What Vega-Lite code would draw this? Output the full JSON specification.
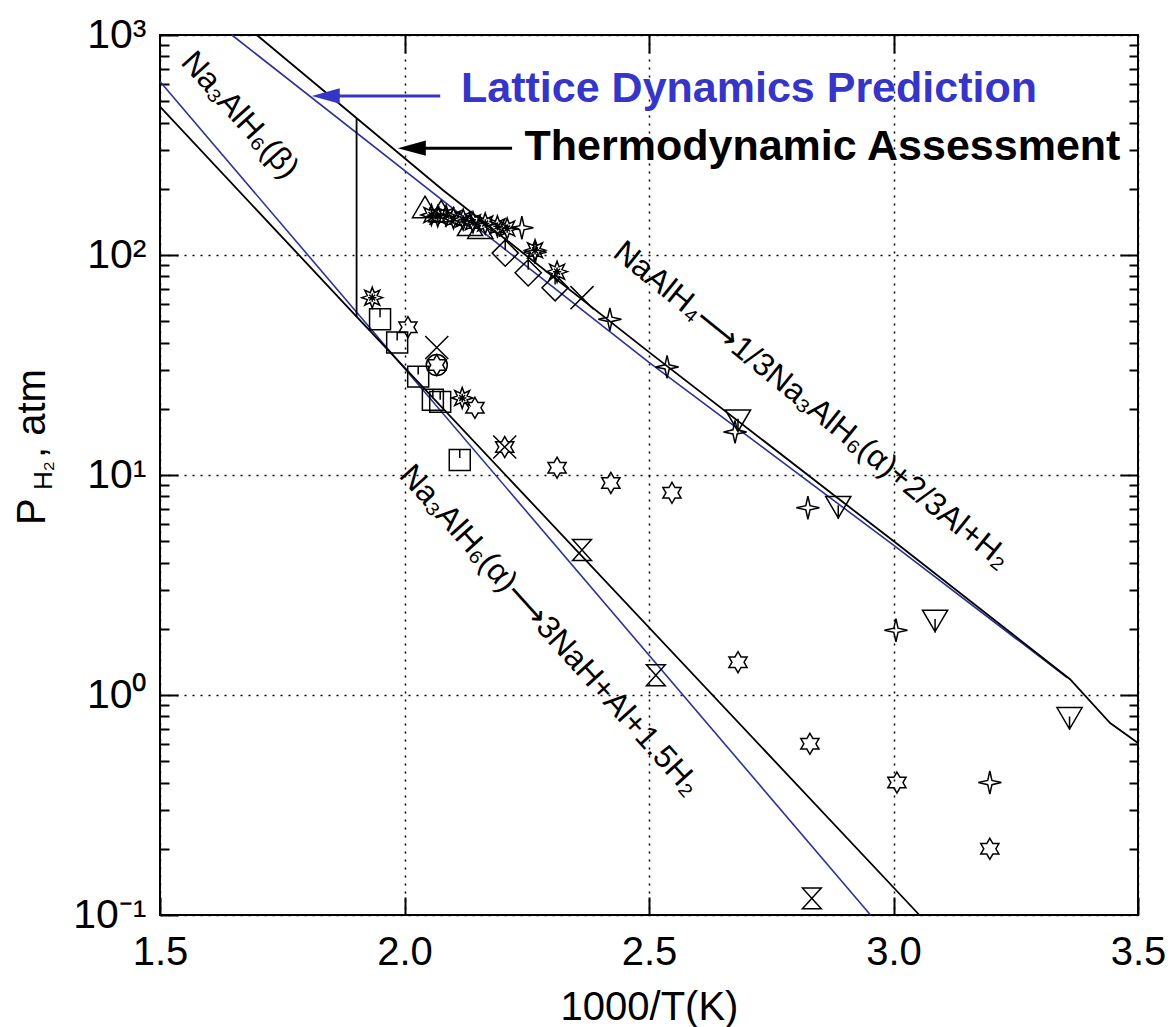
{
  "$schema": "https://vega.github.io/schema/vega-lite/v6.json",
  "width": 978,
  "height": 880,
  "autosize": {"type": "none"},
  "padding": {"left": 160, "top": 35, "right": 36, "bottom": 112},
  "background": "white",
  "datasets": {
    "curves": [
      {"s": "blue", "seg": "upper", "x": 1.647, "y": 1000},
      {"s": "blue", "seg": "upper", "x": 2.5, "y": 32.5},
      {"s": "blue", "seg": "upper", "x": 3.0, "y": 4.8},
      {"s": "blue", "seg": "upper", "x": 3.355, "y": 1.2},
      {"s": "blue", "seg": "lower", "x": 1.5, "y": 614},
      {"s": "blue", "seg": "lower", "x": 2.953, "y": 0.1},
      {"s": "black", "seg": "upper", "x": 1.698, "y": 1000},
      {"s": "black", "seg": "upper", "x": 2.079, "y": 197},
      {"s": "black", "seg": "upper", "x": 2.502, "y": 35.9},
      {"s": "black", "seg": "upper", "x": 2.891, "y": 7.7},
      {"s": "black", "seg": "upper", "x": 3.0, "y": 5.01},
      {"s": "black", "seg": "upper", "x": 3.361, "y": 1.18},
      {"s": "black", "seg": "upper", "x": 3.443, "y": 0.746},
      {"s": "black", "seg": "upper", "x": 3.5, "y": 0.605},
      {"s": "black", "seg": "lower", "x": 1.5, "y": 472},
      {"s": "black", "seg": "lower", "x": 1.902, "y": 52.5},
      {"s": "black", "seg": "lower", "x": 3.053, "y": 0.1},
      {"s": "black", "seg": "transition", "x": 1.902, "y": 52.5},
      {"s": "black", "seg": "transition", "x": 1.902, "y": 418}
    ],
    "points": [
      {"m": "triUp", "x": 2.042, "y": 164},
      {"m": "triUp", "x": 2.075, "y": 157},
      {"m": "triUp", "x": 2.134, "y": 136},
      {"m": "triUp", "x": 2.155, "y": 132},
      {"m": "star8", "x": 2.055, "y": 152},
      {"m": "star8", "x": 2.068, "y": 150},
      {"m": "star8", "x": 2.085, "y": 151},
      {"m": "star8", "x": 2.1, "y": 147},
      {"m": "star8", "x": 2.12, "y": 145},
      {"m": "star8", "x": 2.14, "y": 141},
      {"m": "star8", "x": 2.165, "y": 139},
      {"m": "star8", "x": 2.19, "y": 135},
      {"m": "star8", "x": 2.21, "y": 132},
      {"m": "star8", "x": 2.267, "y": 105},
      {"m": "star8", "x": 2.312, "y": 84},
      {"m": "star8", "x": 1.934, "y": 64},
      {"m": "star8", "x": 2.118, "y": 22.4},
      {"m": "star4", "x": 2.24, "y": 133},
      {"m": "star4", "x": 2.267, "y": 103},
      {"m": "star4", "x": 2.42, "y": 51},
      {"m": "star4", "x": 2.537, "y": 31},
      {"m": "star4", "x": 2.676, "y": 15.7},
      {"m": "star4", "x": 2.825, "y": 7.1},
      {"m": "star4", "x": 3.005, "y": 1.97},
      {"m": "star4", "x": 3.197, "y": 0.4},
      {"m": "diamondTick", "x": 2.206, "y": 102},
      {"m": "diamondTick", "x": 2.253, "y": 83},
      {"m": "diamondTick", "x": 2.308, "y": 71},
      {"m": "cross", "x": 2.363, "y": 64},
      {"m": "cross", "x": 2.066, "y": 38},
      {"m": "cross", "x": 2.205, "y": 13.4},
      {"m": "squareTick", "x": 1.95, "y": 51},
      {"m": "squareTick", "x": 1.985, "y": 40},
      {"m": "squareTick", "x": 2.028, "y": 28},
      {"m": "squareTick", "x": 2.058, "y": 22},
      {"m": "squareTick", "x": 2.073, "y": 21.5},
      {"m": "squareTick", "x": 2.113, "y": 11.7},
      {"m": "star6", "x": 2.007, "y": 47},
      {"m": "star6", "x": 2.144, "y": 20.2},
      {"m": "star6", "x": 2.205, "y": 13.4},
      {"m": "star6", "x": 2.066, "y": 31.6},
      {"m": "star6", "x": 2.312, "y": 10.8},
      {"m": "star6", "x": 2.422, "y": 9.2},
      {"m": "star6", "x": 2.547, "y": 8.3},
      {"m": "star6", "x": 2.682, "y": 1.41},
      {"m": "star6", "x": 2.829, "y": 0.6},
      {"m": "star6", "x": 3.007, "y": 0.4},
      {"m": "star6", "x": 3.197, "y": 0.2},
      {"m": "circle", "x": 2.066, "y": 31.6},
      {"m": "hourglass", "x": 2.363, "y": 4.56},
      {"m": "hourglass", "x": 2.514, "y": 1.23},
      {"m": "hourglass", "x": 2.833, "y": 0.119},
      {"m": "triDownTick", "x": 2.682, "y": 17.8},
      {"m": "triDownTick", "x": 2.887, "y": 7.2},
      {"m": "triDownTick", "x": 3.085, "y": 2.19},
      {"m": "triDownTick", "x": 3.36, "y": 0.79}
    ],
    "arrows": [
      {"id": "lattice", "x": 1.839, "x2": 2.073, "y": 528},
      {"id": "thermo", "x": 2.015, "x2": 2.22, "y": 306}
    ],
    "notes": [
      {"id": "lattice", "t": "Lattice Dynamics Prediction", "x": 2.7045, "y": 495},
      {"id": "thermo", "t": "Thermodynamic Assessment", "x": 2.8548, "y": 269},
      {"id": "beta", "t": "Na₃AlH₆(β)", "x": 1.6636, "y": 433},
      {"id": "upper", "t": "NaAlH₄⟶1/3Na₃AlH₆(α)+2/3Al+H₂", "x": 2.8333, "y": 20.8},
      {"id": "lower", "t": "Na₃AlH₆(α)⟶3NaH+Al+1.5H₂", "x": 2.2975, "y": 1.975},
      {"id": "ytitleP", "t": "P", "x": 1.2648, "y": 5.93},
      {"id": "ytitleSub", "t": "H₂", "x": 1.2791, "y": 8.55},
      {"id": "ytitleUnit", "t": ", atm", "x": 1.2648, "y": 11.95}
    ]
  },
  "layer": [
    {
      "data": {"name": "curves"},
      "transform": [{"filter": "datum.s == 'blue'"}],
      "mark": {"type": "line", "color": "#2e3192", "strokeWidth": 1.6},
      "encoding": {
        "x": {
          "field": "x", "type": "quantitative",
          "scale": {"domain": [1.5, 3.5], "nice": false, "zero": false},
          "axis": {
            "orient": "bottom", "values": [1.5, 2, 2.5, 3, 3.5], "format": ".1f",
            "ticks": true, "tickSize": -18, "tickWidth": 2, "tickColor": "black",
            "domain": false, "grid": true,
            "gridColor": "black", "gridDash": [2, 6], "gridWidth": 1.5, "gridOpacity": 1,
            "labelFontSize": 40, "labelPadding": 35, "labelFlush": false,
            "labelOverlap": false, "labelBound": false,
            "title": "1000/T(K)", "titleFontSize": 40, "titleFontWeight": "normal", "titlePadding": 15
          }
        },
        "y": {
          "field": "y", "type": "quantitative",
          "scale": {"type": "log", "domain": [0.1, 1000], "nice": false},
          "axis": {
            "orient": "left",
            "values": [0.1, 0.2, 0.3, 0.4, 0.5, 0.6, 0.7, 0.8, 0.9, 1, 2, 3, 4, 5, 6, 7, 8, 9, 10, 20, 30, 40, 50, 60, 70, 80, 90, 100, 200, 300, 400, 500, 600, 700, 800, 900, 1000],
            "labelExpr": "abs(log(datum.value)/LN10 - round(log(datum.value)/LN10)) > 0.001 ? '' : datum.value > 500 ? '10³' : datum.value > 50 ? '10²' : datum.value > 5 ? '10¹' : datum.value > 0.5 ? '10⁰' : '10⁻¹'",
            "ticks": true,
            "tickSize": {"condition": {"test": "abs(log(datum.value)/LN10 - round(log(datum.value)/LN10)) < 0.001", "value": -18}, "value": -9},
            "tickWidth": 2, "tickColor": "black",
            "domain": false, "grid": true,
            "gridColor": "black", "gridDash": [2, 6], "gridWidth": 1.5,
            "gridOpacity": {"condition": {"test": "abs(log(datum.value)/LN10 - round(log(datum.value)/LN10)) < 0.001", "value": 1}, "value": 0},
            "labelFontSize": 41, "labelPadding": 32, "labelOverlap": false, "labelBound": false,
            "title": null
          }
        },
        "detail": {"field": "seg"}
      }
    },
    {
      "data": {"name": "curves"},
      "transform": [{"filter": "datum.s == 'black'"}],
      "mark": {"type": "line", "color": "black", "strokeWidth": 1.8},
      "encoding": {
        "x": {
          "field": "x", "type": "quantitative",
          "scale": {"domain": [1.5, 3.5], "nice": false, "zero": false},
          "axis": {"orient": "top", "values": [2, 2.5, 3], "labelExpr": "''", "domain": false,
                   "grid": true, "gridOpacity": 0, "ticks": true, "tickSize": -18, "tickWidth": 2,
                   "tickColor": "black", "title": null}
        },
        "y": {
          "field": "y", "type": "quantitative",
          "scale": {"type": "log", "domain": [0.1, 1000], "nice": false},
          "axis": {"orient": "right",
                   "values": [0.2, 0.3, 0.4, 0.5, 0.6, 0.7, 0.8, 0.9, 1, 2, 3, 4, 5, 6, 7, 8, 9, 10, 20, 30, 40, 50, 60, 70, 80, 90, 100, 200, 300, 400, 500, 600, 700, 800, 900],
                   "labelExpr": "''", "domain": false, "grid": true, "gridOpacity": 0, "ticks": true,
                   "tickSize": {"condition": {"test": "abs(log(datum.value)/LN10 - round(log(datum.value)/LN10)) < 0.001", "value": -18}, "value": -9},
                   "tickWidth": 2, "tickColor": "black", "title": null}
        },
        "detail": {"field": "seg"}
      }
    },
    {
      "data": {"name": "points"},
      "mark": {"type": "point", "filled": false, "color": "black", "strokeWidth": 1.5, "size": 440, "opacity": 1},
      "encoding": {
        "x": {"field": "x", "type": "quantitative", "axis": null,
              "scale": {"domain": [1.5, 3.5], "nice": false, "zero": false}},
        "y": {"field": "y", "type": "quantitative", "axis": null,
              "scale": {"type": "log", "domain": [0.1, 1000], "nice": false}},
        "shape": {
          "field": "m", "type": "nominal", "legend": null,
          "scale": {
            "domain": ["triUp", "triDownTick", "squareTick", "diamondTick", "star6", "star4", "star8", "hourglass", "cross", "circle"],
            "range": [
              "M0,-1.1 L1.2,0.95 L-1.2,0.95 Z",
              "M-1.2,-0.95 L1.2,-0.95 L0,1.1 Z M0,-0.1 L0,1.2",
              "M-1,-1 L1,-1 L1,1 L-1,1 Z M0,-1 L0,-0.2",
              "M0,-1.25 L1.25,0 L0,1.25 L-1.25,0 Z M0,-1.5 L0,-0.3",
              "M0,-1 L0.289,-0.5 L0.866,-0.5 L0.577,0 L0.866,0.5 L0.289,0.5 L0,1 L-0.289,0.5 L-0.866,0.5 L-0.577,0 L-0.866,-0.5 L-0.289,-0.5 Z",
              "M0,-1.1 L0.2,-0.2 L1.1,0 L0.2,0.2 L0,1.1 L-0.2,0.2 L-1.1,0 L-0.2,-0.2 Z",
              "M1,0 L0.462,0.191 L0.707,0.707 L0.191,0.462 L0,1 L-0.191,0.462 L-0.707,0.707 L-0.462,0.191 L-1,0 L-0.462,-0.191 L-0.707,-0.707 L-0.191,-0.462 L0,-1 L0.191,-0.462 L0.707,-0.707 L0.462,-0.191 Z M-0.4,0 L0.4,0 M0,-0.4 L0,0.4 M-0.28,-0.28 L0.28,0.28 M-0.28,0.28 L0.28,-0.28",
              "M-0.9,-1 L0.9,-1 L-0.9,1 L0.9,1 Z",
              "M-1.1,-1.1 L1.1,1.1 M-1.1,1.1 L1.1,-1.1",
              "circle"
            ]
          }
        }
      }
    },
    {
      "data": {"name": "arrows"},
      "mark": {"type": "rule", "strokeWidth": 3},
      "encoding": {
        "x": {"field": "x", "type": "quantitative", "axis": null,
              "scale": {"domain": [1.5, 3.5], "nice": false, "zero": false}},
        "x2": {"field": "x2"},
        "y": {"field": "y", "type": "quantitative", "axis": null,
              "scale": {"type": "log", "domain": [0.1, 1000], "nice": false}},
        "color": {"field": "id", "type": "nominal", "legend": null,
                  "scale": {"domain": ["lattice", "thermo"], "range": ["#3535c8", "black"]}}
      }
    },
    {
      "data": {"name": "arrows"},
      "mark": {"type": "point", "filled": true, "size": 784, "opacity": 1,
               "shape": "M-1,0 L1,-0.55 L1,0.55 Z"},
      "encoding": {
        "x": {"field": "x", "type": "quantitative", "axis": null,
              "scale": {"domain": [1.5, 3.5], "nice": false, "zero": false}},
        "y": {"field": "y", "type": "quantitative", "axis": null,
              "scale": {"type": "log", "domain": [0.1, 1000], "nice": false}},
        "color": {"field": "id", "type": "nominal", "legend": null,
                  "scale": {"domain": ["lattice", "thermo"], "range": ["#3535c8", "black"]}}
      }
    },
    {
      "data": {"name": "notes"},
      "transform": [{"filter": "datum.id == 'lattice' || datum.id == 'thermo'"}],
      "mark": {"type": "text", "fontSize": 43, "fontWeight": "bold", "align": "center", "baseline": "alphabetic"},
      "encoding": {
        "x": {"field": "x", "type": "quantitative", "axis": null,
              "scale": {"domain": [1.5, 3.5], "nice": false, "zero": false}},
        "y": {"field": "y", "type": "quantitative", "axis": null,
              "scale": {"type": "log", "domain": [0.1, 1000], "nice": false}},
        "text": {"field": "t"},
        "color": {"field": "id", "type": "nominal", "legend": null,
                  "scale": {"domain": ["lattice", "thermo"], "range": ["#3535c8", "black"]}}
      }
    },
    {
      "data": {"name": "notes"},
      "transform": [{"filter": "datum.id == 'beta' || datum.id == 'lower'"}],
      "mark": {"type": "text", "fontSize": 32, "angle": 48, "align": "center", "baseline": "middle", "color": "black"},
      "encoding": {
        "x": {"field": "x", "type": "quantitative", "axis": null,
              "scale": {"domain": [1.5, 3.5], "nice": false, "zero": false}},
        "y": {"field": "y", "type": "quantitative", "axis": null,
              "scale": {"type": "log", "domain": [0.1, 1000], "nice": false}},
        "text": {"field": "t"}
      }
    },
    {
      "data": {"name": "notes"},
      "transform": [{"filter": "datum.id == 'upper'"}],
      "mark": {"type": "text", "fontSize": 32, "angle": 39, "align": "center", "baseline": "middle", "color": "black"},
      "encoding": {
        "x": {"field": "x", "type": "quantitative", "axis": null,
              "scale": {"domain": [1.5, 3.5], "nice": false, "zero": false}},
        "y": {"field": "y", "type": "quantitative", "axis": null,
              "scale": {"type": "log", "domain": [0.1, 1000], "nice": false}},
        "text": {"field": "t"}
      }
    },
    {
      "data": {"name": "notes"},
      "transform": [{"filter": "datum.id == 'ytitleP' || datum.id == 'ytitleUnit'"}],
      "mark": {"type": "text", "fontSize": 40, "angle": 270, "align": "left", "baseline": "alphabetic", "color": "black"},
      "encoding": {
        "x": {"field": "x", "type": "quantitative", "axis": null,
              "scale": {"domain": [1.5, 3.5], "nice": false, "zero": false}},
        "y": {"field": "y", "type": "quantitative", "axis": null,
              "scale": {"type": "log", "domain": [0.1, 1000], "nice": false}},
        "text": {"field": "t"}
      }
    },
    {
      "data": {"name": "notes"},
      "transform": [{"filter": "datum.id == 'ytitleSub'"}],
      "mark": {"type": "text", "fontSize": 26, "angle": 270, "align": "left", "baseline": "alphabetic", "color": "black"},
      "encoding": {
        "x": {"field": "x", "type": "quantitative", "axis": null,
              "scale": {"domain": [1.5, 3.5], "nice": false, "zero": false}},
        "y": {"field": "y", "type": "quantitative", "axis": null,
              "scale": {"type": "log", "domain": [0.1, 1000], "nice": false}},
        "text": {"field": "t"}
      }
    }
  ],
  "resolve": {
    "scale": {"x": "independent", "y": "independent"},
    "axis": {"x": "independent", "y": "independent"}
  },
  "config": {
    "font": "Liberation Sans",
    "view": {"stroke": "black", "strokeWidth": 2},
    "axis": {
      "labelFont": "Liberation Sans", "titleFont": "Liberation Sans",
      "labelColor": "black", "titleColor": "black", "tickColor": "black", "domainColor": "black"
    },
    "text": {"font": "Liberation Sans"}
  }
}
